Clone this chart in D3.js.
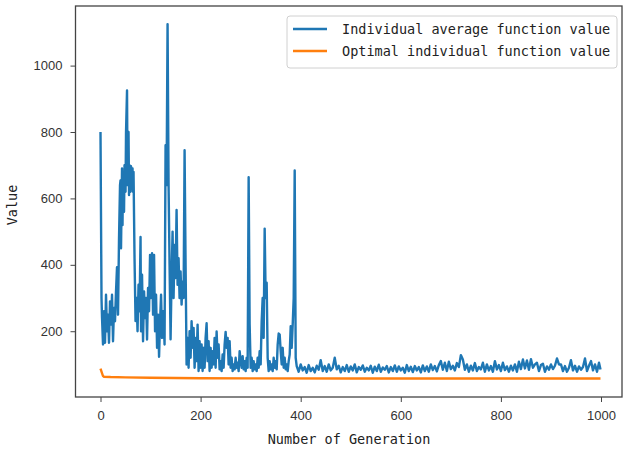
<!DOCTYPE html>
<meta charset="utf-8">
<style>
body { margin: 0; background: #fff; }
.tick text { font-family: "Liberation Sans", Arial, sans-serif; font-size: 13px; fill: #333; }
.tick line { stroke: #444; }
.label, .legend text { font-family: "DejaVu Sans Mono", monospace; fill: #222; }
</style>
<body>
<svg width="624" height="452"></svg>
<script src="https://cdn.jsdelivr.net/npm/d3@7"></script>
<script>

// average fitness, [generation, value] (spiky part)
var avgEarly = [
	[0,800],[2,300],[3,243],[5,160],[7,260],[9,165],[11,310],[13,200],[15,250],[17,165],
	[19,290],[21,220],[23,310],[25,170],[27,270],[29,230],[31,320],[33,393],[35,250],[37,480],
	[39,640],[40,654],[41,450],[43,690],[44,520],[45,680],[47,560],[48,700],[50,620],[51,800],
	[53,925],[54,640],[55,720],[56,800],[57,610],[58,700],[60,620],[61,697],[62,630],[64,690],
	[65,620],[66,680],[68,420],[70,231],[72,300],[74,200],[76,340],[78,260],[80,484],[81,200],
	[83,370],[85,170],[87,320],[89,240],[91,300],[93,175],[95,330],[97,260],[99,430],[101,300],
	[103,435],[105,250],[107,430],[109,200],[111,310],[113,150],[115,250],[117,123],[119,230],[121,310],
	[123,180],[125,260],[127,200],[128,160],[130,760],[132,640],[134,1125],[136,640],[138,400],[140,176],
	[142,360],[144,500],[146,300],[148,460],[150,360],[152,565],[154,340],[156,420],[158,300],[160,380],
	[162,280],[164,350],[166,300],[168,745],[170,400],[172,100],[174,180],[176,90],[178,200],[180,120],
	[182,230],[184,150],[186,210],[188,90],[190,180],[192,110],[194,220],[196,80],[198,170],[200,90],
	[202,160],[204,80],[206,150],[208,90],[210,180],[212,224],[214,110],[216,170],[218,80],[220,150],
	[222,90],[224,140],[226,100],[228,180],[230,90],[232,199],[234,120],[236,160],[238,85],[240,110],
	[242,80],[244,130],[246,90],[248,160],[250,198],[252,150],[254,180],[256,100],[258,170],[260,90],
	[262,120],[264,80],[266,100],[268,85],[270,120],[272,90],[274,105],[276,80],[278,140],[280,110],
	[282,90],[284,125],[286,85],[288,110],[290,80],[292,120],[294,90],[296,664],[298,220],[300,90],
	[302,120],[304,80],[306,110],[308,85],[310,100],[312,80],[314,120],[316,90],[318,140],[320,100],
	[322,230],[324,300],[326,180],[328,509],[330,300],[332,346],[334,120],[336,80],[338,110],[340,85],
	[342,100],[344,80],[346,120],[348,90],[350,110],[352,85],[354,160],[356,193],[358,190],[360,140],
	[362,100],[364,150],[366,90],[368,120],[370,85],[372,100],[374,80],[376,110],[378,130],[380,215],
	[382,150],[384,220],[386,300],[388,684],[390,120]
];

// flat part, one value every 4 generations from 392 on
var tailStart = 392, tailStep = 4;
var avgTail = [
	95,78,100,82,92,75,98,80,90,76,96,84,
	113,80,95,78,100,82,90,120,85,96,76,92,
	80,98,78,94,82,100,76,92,84,97,78,90,
	82,96,75,93,80,99,78,91,84,95,76,92,
	80,97,78,94,82,90,75,98,80,93,77,95,
	82,92,76,97,80,94,78,100,83,95,79,98,
	110,84,105,80,108,86,96,82,104,92,128,115,
	84,100,78,96,82,104,80,92,85,105,78,100,
	82,95,78,110,85,98,80,105,83,94,78,96,
	82,100,78,108,86,115,88,112,84,116,90,100,
	105,80,98,102,78,94,84,100,86,96,118,100,
	100,80,95,78,90,113,82,96,78,94,84,92,
	118,80,96,110,82,100,78,105
];
var avgLast = [999, 85];

// best fitness
var bestGens = [0, 2, 5, 7, 20, 50, 100, 150, 200, 300, 500, 999];
var bestValues = [87, 78, 65, 63, 62, 61, 60, 59, 58.5, 58, 57.8, 57.5];

var xTicks = [0, 200, 400, 600, 800, 1000];
var yTicks = [200, 400, 600, 800, 1000];
var seriesNames = ["Individual average function value", "Optimal individual function value"];
var colors = ["#1f77b4", "#ff7f0e"];

var avgData = avgEarly.slice();
avgTail.forEach(function(v, i){ avgData.push([tailStart + i*tailStep, v]); });
avgData.push(avgLast);

var bestData = bestGens.map(function(g, i){ return [g, bestValues[i]]; });

var svg = d3.select("svg");
var plotLeft = 75.5, plotRight = 622, plotTop = 6, plotBottom = 397;

var x = d3.scaleLinear().domain([-49.95, 1048.95]).range([plotLeft, 625.5]);
var y = d3.scaleLinear().domain([4, 1178]).range([396.3, 6.5]);

var line = d3.line()
	.x(function(d){ return x(d[0]); })
	.y(function(d){ return y(d[1]); });

svg.append("path")
	.datum(avgData)
	.attr("d", line)
	.attr("fill", "none")
	.attr("stroke", colors[0])
	.attr("stroke-width", 2.4)
	.attr("stroke-linejoin", "round");

svg.append("path")
	.datum(bestData)
	.attr("d", line)
	.attr("fill", "none")
	.attr("stroke", colors[1])
	.attr("stroke-width", 2.4);

// frame
svg.append("rect")
	.attr("x", plotLeft).attr("y", plotTop)
	.attr("width", plotRight - plotLeft).attr("height", plotBottom - plotTop)
	.attr("fill", "none")
	.attr("stroke", "#444")
	.attr("stroke-width", 1.3);

var xAxis = svg.append("g")
	.attr("transform", "translate(0," + plotBottom + ")")
	.call(d3.axisBottom(x).tickValues(xTicks).tickSize(5).tickPadding(9).tickFormat(d3.format("d")));
xAxis.select(".domain").remove();

var yAxis = svg.append("g")
	.attr("transform", "translate(" + plotLeft + ",0)")
	.call(d3.axisLeft(y).tickValues(yTicks).tickSize(5).tickPadding(8).tickFormat(d3.format("d")));
yAxis.select(".domain").remove();

svg.append("text")
	.attr("class", "label")
	.attr("x", 349).attr("y", 444)
	.attr("text-anchor", "middle")
	.style("font-size", "13.5px")
	.text("Number of Generation");

svg.append("text")
	.attr("class", "label")
	.attr("transform", "translate(17,205) rotate(-90)")
	.attr("text-anchor", "middle")
	.style("font-size", "13.5px")
	.text("Value");

// legend
var legend = svg.append("g").attr("class", "legend");
legend.append("rect")
	.attr("x", 287).attr("y", 16)
	.attr("width", 330).attr("height", 52)
	.attr("rx", 3)
	.attr("fill", "white").attr("fill-opacity", 0.85)
	.attr("stroke", "#d0d0d0");

seriesNames.forEach(function(name, i){
	var ly = 29 + i*22;
	legend.append("line")
		.attr("x1", 293).attr("x2", 327)
		.attr("y1", ly).attr("y2", ly)
		.attr("stroke", colors[i])
		.attr("stroke-width", 2.4);
	legend.append("text")
		.attr("x", 342).attr("y", ly + 5)
		.style("font-size", "13.5px")
		.text(name);
});

</script>
</body>
